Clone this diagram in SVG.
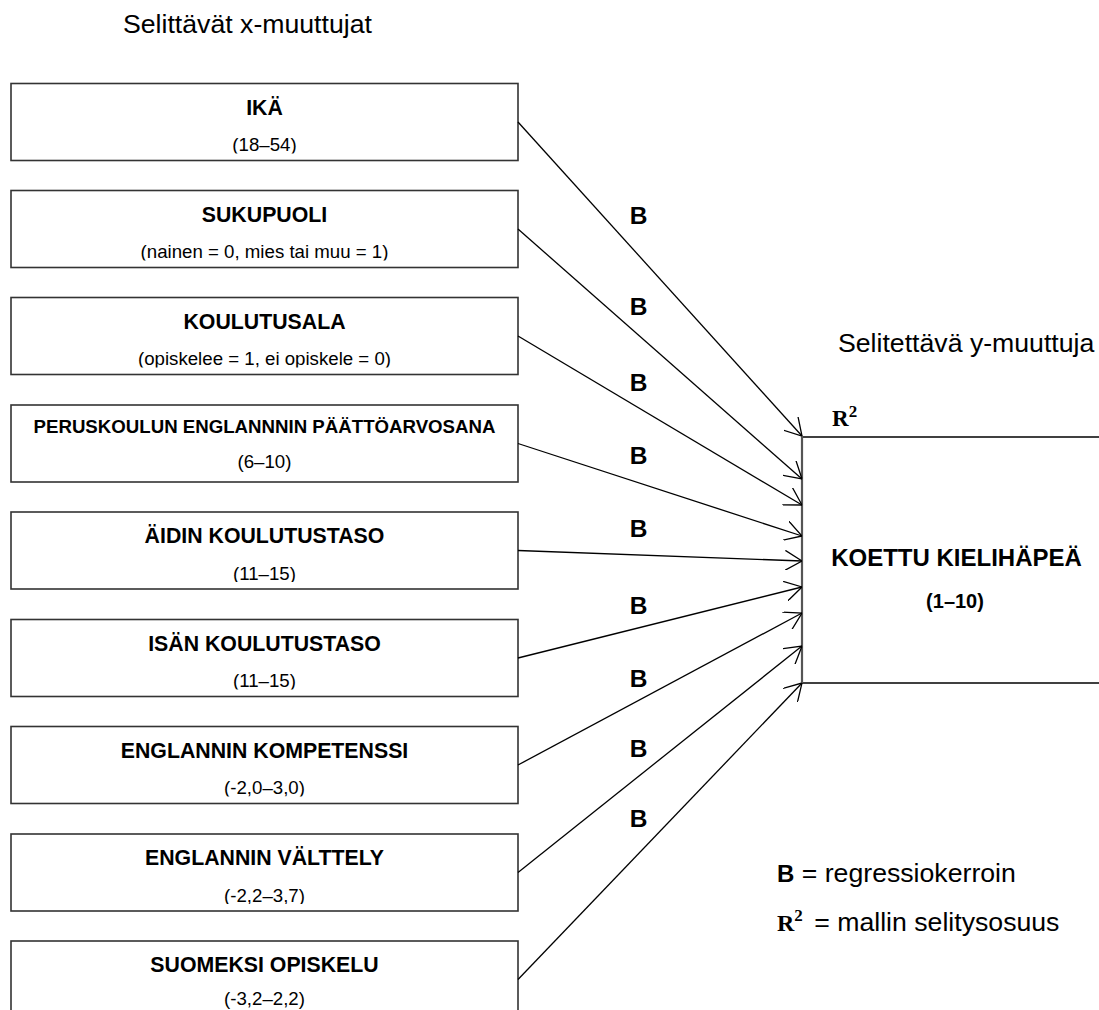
<svg xmlns="http://www.w3.org/2000/svg" width="1099" height="1010" viewBox="0 0 1099 1010">
<style>
  .box { fill: #ffffff; stroke: #333333; stroke-width: 1.6; }
  .t { font-family: "Liberation Sans", Arial, sans-serif; font-weight: bold; font-size: 21.3px; text-anchor: middle; fill: #000; }
  .s { font-family: "Liberation Sans", Arial, sans-serif; font-size: 18.67px; text-anchor: middle; fill: #000; }
  .hdr { font-family: "Liberation Sans", Arial, sans-serif; font-size: 26.67px; fill: #000; }
  .b { font-family: "Liberation Sans", Arial, sans-serif; font-weight: bold; font-size: 24.5px; text-anchor: middle; fill: #000; }
  .conn { stroke: #000; stroke-width: 1.3; fill: none; marker-end: url(#arr); }
  .rr { font-family: "Liberation Serif", "Times New Roman", serif; font-weight: bold; fill: #000; }
</style>
<defs>
  <marker id="arr" viewBox="0 0 17 20" refX="17" refY="10" markerWidth="17" markerHeight="20" markerUnits="userSpaceOnUse" orient="auto">
    <path d="M0,0 L17,10 L0,20" fill="none" stroke="#000" stroke-width="1.3"/>
  </marker>
  <clipPath id="c0"><rect x="11" y="83.5" width="507" height="70"/></clipPath>
  <clipPath id="c1"><rect x="11" y="190.5" width="507" height="70"/></clipPath>
  <clipPath id="c2"><rect x="11" y="297.5" width="507" height="70"/></clipPath>
  <clipPath id="c3"><rect x="11" y="405" width="507" height="74.5"/></clipPath>
  <clipPath id="c4"><rect x="11" y="512" width="507" height="70"/></clipPath>
  <clipPath id="c5"><rect x="11" y="619.5" width="507" height="70"/></clipPath>
  <clipPath id="c6"><rect x="11" y="726.5" width="507" height="70"/></clipPath>
  <clipPath id="c7"><rect x="11" y="834" width="507" height="70"/></clipPath>
  <clipPath id="c8"><rect x="11" y="941" width="507" height="70"/></clipPath>
</defs>
<rect width="1099" height="1010" fill="#ffffff"/>

<text class="hdr" x="123" y="33">Selittävät x-muuttujat</text>
<text class="hdr" x="838" y="352">Selitettävä y-muuttuja</text>

<g id="n-ika">
  <rect class="box" x="11" y="83.5" width="507" height="77"/>
  <g clip-path="url(#c0)"><text class="t" x="264.5" y="114.5">IKÄ</text><text class="s" x="264.5" y="151">(18–54)</text></g>
</g>
<g id="n-sukupuoli">
  <rect class="box" x="11" y="190.5" width="507" height="77"/>
  <g clip-path="url(#c1)"><text class="t" x="264.5" y="221.5">SUKUPUOLI</text><text class="s" x="264.5" y="258">(nainen = 0, mies tai muu = 1)</text></g>
</g>
<g id="n-koulutusala">
  <rect class="box" x="11" y="297.5" width="507" height="77"/>
  <g clip-path="url(#c2)"><text class="t" x="264.5" y="328.5">KOULUTUSALA</text><text class="s" x="264.5" y="365">(opiskelee = 1, ei opiskele = 0)</text></g>
</g>
<g id="n-peruskoulu">
  <rect class="box" x="11" y="405" width="507" height="77"/>
  <g clip-path="url(#c3)"><text class="t" x="264.5" y="433" style="font-size:18.67px">PERUSKOULUN ENGLANNNIN PÄÄTTÖARVOSANA</text><text class="s" x="264.5" y="468">(6–10)</text></g>
</g>
<g id="n-aiti">
  <rect class="box" x="11" y="512" width="507" height="77"/>
  <g clip-path="url(#c4)"><text class="t" x="264.5" y="543">ÄIDIN KOULUTUSTASO</text><text class="s" x="264.5" y="579.5">(11–15)</text></g>
</g>
<g id="n-isa">
  <rect class="box" x="11" y="619.5" width="507" height="77"/>
  <g clip-path="url(#c5)"><text class="t" x="264.5" y="650.5">ISÄN KOULUTUSTASO</text><text class="s" x="264.5" y="687">(11–15)</text></g>
</g>
<g id="n-kompetenssi">
  <rect class="box" x="11" y="726.5" width="507" height="77"/>
  <g clip-path="url(#c6)"><text class="t" x="264.5" y="757.5">ENGLANNIN KOMPETENSSI</text><text class="s" x="264.5" y="794">(-2,0–3,0)</text></g>
</g>
<g id="n-valttely">
  <rect class="box" x="11" y="834" width="507" height="77"/>
  <g clip-path="url(#c7)"><text class="t" x="264.5" y="865">ENGLANNIN VÄLTTELY</text><text class="s" x="264.5" y="901.5">(-2,2–3,7)</text></g>
</g>
<g id="n-suomeksi">
  <rect class="box" x="11" y="941" width="507" height="77"/>
  <g clip-path="url(#c8)"><text class="t" x="264.5" y="972">SUOMEKSI OPISKELU</text><text class="s" x="264.5" y="1005">(-3,2–2,2)</text></g>
</g>

<g id="n-kielihapea">
  <line x1="802" y1="437" x2="1099" y2="437" stroke="#000" stroke-width="1.5"/>
  <line x1="802" y1="683" x2="1099" y2="683" stroke="#000" stroke-width="1.5"/>
  <line x1="802" y1="436" x2="802" y2="684" stroke="#555" stroke-width="2.2"/>
  <text class="t" x="956.5" y="566" style="font-size:24px">KOETTU KIELIHÄPEÄ</text>
  <text class="t" x="955" y="608" style="font-size:20px">(1–10)</text>
  <text class="rr" x="832" y="426" style="font-size:23px">R<tspan dy="-9" style="font-size:17px">2</tspan></text>
</g>

<g id="connectors">
  <line class="conn" x1="518" y1="122" x2="802" y2="436"/>
  <line class="conn" x1="518" y1="229" x2="802" y2="479"/>
  <line class="conn" x1="518" y1="336" x2="802" y2="505"/>
  <line class="conn" x1="518" y1="443.5" x2="802" y2="536"/>
  <line class="conn" x1="518" y1="550.5" x2="802" y2="561"/>
  <line class="conn" x1="518" y1="658" x2="802" y2="587"/>
  <line class="conn" x1="518" y1="765" x2="802" y2="613"/>
  <line class="conn" x1="518" y1="872.5" x2="802" y2="646"/>
  <line class="conn" x1="518" y1="979.5" x2="802" y2="683"/>
  <text class="b" x="638.5" y="224">B</text>
  <text class="b" x="638.5" y="315">B</text>
  <text class="b" x="638.5" y="391">B</text>
  <text class="b" x="638.5" y="464">B</text>
  <text class="b" x="638.5" y="537">B</text>
  <text class="b" x="638.5" y="614">B</text>
  <text class="b" x="638.5" y="687">B</text>
  <text class="b" x="638.5" y="757">B</text>
  <text class="b" x="638.5" y="827">B</text>
</g>

<g id="legend">
  <text class="hdr" x="777" y="882"><tspan style="font-weight:bold;font-size:24px">B</tspan> = regressiokerroin</text>
  <text class="hdr" x="777" y="931"><tspan class="rr" style="font-size:24px">R</tspan><tspan class="rr" dy="-10" style="font-size:17px">2</tspan><tspan dy="10" dx="4"> = mallin selitysosuus</tspan></text>
</g>
</svg>
